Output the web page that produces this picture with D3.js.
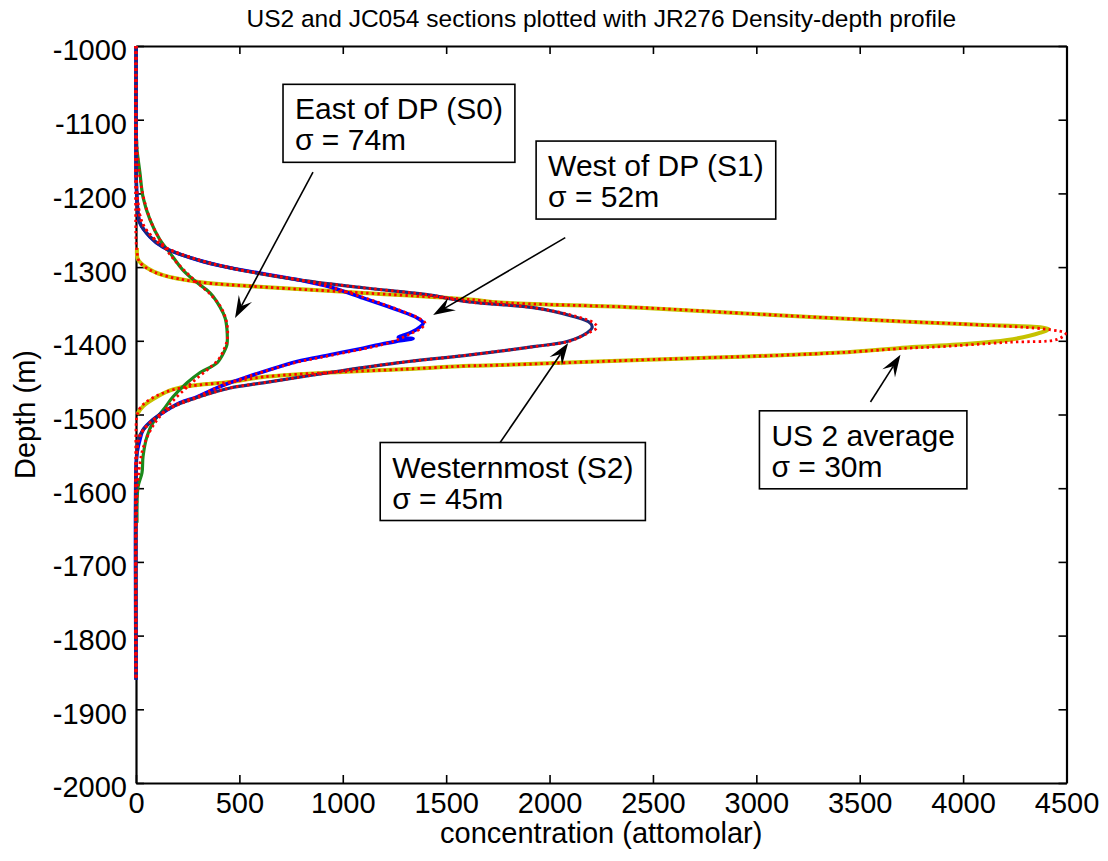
<!DOCTYPE html>
<html>
<head>
<meta charset="utf-8">
<script src="https://cdn.jsdelivr.net/npm/d3@7"></script>
<style>
  body { margin: 0; background: #fff; }
  text { font-family: "Liberation Sans", Arial, sans-serif; fill: #000; }
</style>
</head>
<body>
<svg id="chart" width="1108" height="861"></svg>
<script>
// ---- axis ticks ----
const xTickValues = [0, 500, 1000, 1500, 2000, 2500, 3000, 3500, 4000, 4500];
const yTickValues = [-1000, -1100, -1200, -1300, -1400, -1500, -1600, -1700, -1800, -1900, -2000];
const yTickLabels = ["-1000", "-1100", "-1200", "-1300", "-1400", "-1500", "-1600", "-1700", "-1800", "-1900", "-2000"];

// ---- measured profiles (depth m, concentration attomolar) ----
// East of DP (S0)
const s0Depth = [-1127, -1141, -1172, -1205, -1236, -1263, -1281, -1304, -1321, -1335, -1354, -1369, -1385, -1405, -1412, -1430, -1443, -1457, -1476, -1494, -1511, -1530, -1557, -1579, -1598, -1647];
const s0Conc  = [3, 5, 19, 34, 68, 116, 165, 227, 295, 358, 406, 431, 440, 440, 431, 392, 310, 247, 179, 131, 82, 53, 34, 29, 10, 5];

// West of DP (S1)
const s1Depth = [-1000, -1168, -1188, -1209, -1240, -1259, -1273, -1290, -1301, -1317, -1327, -1342, -1358, -1369, -1376, -1381, -1388, -1393, -1395, -1397, -1400, -1404, -1410, -1419, -1428, -1442, -1449, -1457, -1466, -1476, -1484, -1494, -1507, -1521, -1534, -1552, -1575, -1860];
const s1Conc  = [0, 0, 2, 5, 19, 68, 131, 295, 455, 779, 939, 1098, 1263, 1360, 1389, 1374, 1335, 1287, 1268, 1340, 1277, 1195, 1098, 939, 779, 615, 537, 455, 373, 295, 213, 150, 82, 34, 19, 5, 0, 0];

// Westernmost (S2)
const s2Depth = [-1000, -1168, -1188, -1209, -1240, -1259, -1273, -1290, -1301, -1317, -1328, -1338, -1347, -1355, -1367, -1376, -1382, -1389, -1401, -1408, -1419, -1430, -1443, -1457, -1464, -1477, -1491, -1507, -1521, -1534, -1551, -1575, -1860];
const s2Conc  = [0, 0, 2, 5, 19, 68, 131, 295, 455, 779, 1098, 1423, 1602, 1921, 2115, 2197, 2206, 2182, 2085, 1921, 1616, 1263, 939, 615, 455, 295, 165, 82, 34, 10, 5, 0, 0];

// US 2 average
const usDepth = [-1274, -1290, -1301, -1311, -1320, -1327, -1335, -1344, -1348, -1355, -1365, -1374, -1378, -1384, -1389, -1399, -1405, -1409, -1416, -1420, -1423, -1426, -1433, -1434, -1439, -1443, -1449, -1456, -1460, -1466, -1476, -1489, -1500];
const usConc  = [5, 10, 53, 131, 295, 615, 1098, 1616, 1761, 2439, 3082, 3731, 4050, 4413, 4374, 4214, 3973, 3731, 3406, 3082, 2763, 2439, 1761, 1616, 1263, 939, 615, 455, 295, 179, 102, 34, 5];

// ---- Gaussian fits (red dotted) ----
const fitS0Depth = [-1000, -1120, -1150, -1180, -1210, -1240, -1265, -1285, -1305, -1322, -1337, -1352, -1368, -1385, -1400, -1412, -1425, -1438, -1452, -1466, -1481, -1496, -1512, -1530, -1550, -1575, -1600, -1630, -1660, -1700, -1860];
const fitS0Conc  = [0, 2, 8, 20, 40, 75, 120, 170, 235, 300, 360, 405, 432, 443, 440, 425, 400, 350, 290, 235, 180, 135, 90, 55, 30, 15, 7, 3, 1, 0, 0];

const fitS1Depth = [-1000, -1170, -1190, -1215, -1240, -1258, -1273, -1290, -1301, -1317, -1327, -1342, -1358, -1369, -1376, -1383, -1390, -1398, -1405, -1411, -1420, -1429, -1442, -1449, -1457, -1466, -1476, -1484, -1494, -1507, -1521, -1534, -1550, -1575, -1860];
const fitS1Conc  = [0, 0, 3, 10, 30, 75, 140, 300, 455, 779, 939, 1110, 1270, 1365, 1398, 1380, 1330, 1270, 1195, 1098, 939, 779, 615, 537, 455, 373, 295, 213, 150, 85, 35, 14, 4, 0, 0];

const fitS2Depth = [-1000, -1170, -1190, -1215, -1240, -1258, -1273, -1290, -1301, -1317, -1328, -1338, -1347, -1355, -1367, -1376, -1382, -1389, -1401, -1408, -1419, -1430, -1443, -1457, -1464, -1477, -1491, -1507, -1521, -1534, -1550, -1575, -1860];
const fitS2Conc  = [0, 0, 3, 10, 30, 75, 140, 300, 455, 779, 1098, 1423, 1602, 1921, 2130, 2215, 2229, 2190, 2090, 1921, 1616, 1263, 939, 615, 455, 300, 170, 85, 35, 12, 4, 0, 0];

const fitUsDepth = [-1000, -1262, -1280, -1292, -1302, -1311, -1320, -1327, -1335, -1344, -1348, -1355, -1365, -1374, -1378, -1385, -1390, -1398, -1402, -1408, -1410, -1416, -1420, -1423, -1426, -1433, -1434, -1439, -1443, -1449, -1456, -1460, -1466, -1474, -1485, -1495, -1505, -1520, -1860];
const fitUsConc  = [0, 0, 5, 15, 55, 131, 295, 615, 1098, 1616, 1761, 2439, 3082, 3731, 4050, 4423, 4495, 4456, 4214, 3890, 3731, 3406, 3082, 2763, 2439, 1761, 1616, 1263, 939, 615, 455, 300, 185, 105, 40, 12, 3, 0, 0];

// ---- annotations (anchored in data units: concentration, depth) ----
const noteLines = [["East of DP (S0)", "\u03C3 = 74m"], ["West of DP (S1)", "\u03C3 = 52m"], ["Westernmost (S2)", "\u03C3 = 45m"], ["US 2 average", "\u03C3 = 30m"]];
const noteBoxAt = [[711, -1052], [1935, -1129], [1181, -1538], [3015, -1495]];
const noteArrowFrom = [[856, -1171], [2076, -1260], [1761, -1538], [3552, -1483]];
const noteArrowTo = [[479, -1369], [1437, -1365], [2090, -1403], [3697, -1419]];

// ---- layout ----
const svg = d3.select("#chart");
svg.append("rect").attr("width", 1108).attr("height", 861).attr("fill", "#fff");

const plot = { left: 136, right: 1066.5, top: 46, bottom: 783 };
const x = d3.scaleLinear().domain([0, 4500]).range([plot.left, plot.right]);
const y = d3.scaleLinear().domain([-1000, -2000]).range([plot.top, plot.bottom]);

const zip = (d, c) => d.map((v, i) => [c[i], v]);
const line = d3.line().x(p => x(p[0])).y(p => y(p[1])).curve(d3.curveCatmullRom.alpha(0.5));

const g = svg.append("g");

// ---- axes (ticks inside, full box) ----
const fontTick = 29;
const axB = g.append("g").attr("transform", `translate(0,${plot.bottom})`)
  .call(d3.axisBottom(x).tickValues(xTickValues).tickSizeInner(-8).tickSizeOuter(0).tickPadding(9).tickFormat(d => String(d)));
const axT = g.append("g").attr("transform", `translate(0,${plot.top})`)
  .call(d3.axisTop(x).tickValues(xTickValues).tickSizeInner(-8).tickSizeOuter(0).tickFormat(() => ""));
const axL = g.append("g").attr("transform", `translate(${plot.left},0)`)
  .call(d3.axisLeft(y).tickValues(yTickValues).tickSizeInner(-8).tickSizeOuter(0).tickPadding(9).tickFormat((d, i) => yTickLabels[i]));
const axR = g.append("g").attr("transform", `translate(${plot.right},0)`)
  .call(d3.axisRight(y).tickValues(yTickValues).tickSizeInner(-8).tickSizeOuter(0).tickFormat(() => ""));

[axB, axT, axL, axR].forEach(a => {
  a.select(".domain").attr("stroke", "#000").attr("stroke-width", 2.2);
  a.selectAll(".tick line").attr("stroke", "#000").attr("stroke-width", 1.6);
  a.selectAll("text").attr("font-size", fontTick).attr("font-family", "Liberation Sans, Arial, sans-serif").attr("fill", "#000");
});
axL.selectAll("text").attr("dy", "0.48em");
axB.selectAll("text").attr("dy", "0.71em");

// ---- profiles drawn over the axes ----
const curves = g.append("g");
const solid = [
  { d: usDepth, c: usConc, color: "#c6c200", w: 4 },
  { d: s0Depth, c: s0Conc, color: "#1b8a1b", w: 3.2 },
  { d: s1Depth, c: s1Conc, color: "#0000ff", w: 3.6 },
  { d: s2Depth, c: s2Conc, color: "#1d2b78", w: 3.2 }
];
const fits = [
  { d: fitS0Depth, c: fitS0Conc },
  { d: fitS1Depth, c: fitS1Conc },
  { d: fitS2Depth, c: fitS2Conc },
  { d: fitUsDepth, c: fitUsConc }
];

curves.selectAll("path.obs").data(solid).join("path")
  .attr("class", "obs")
  .attr("d", s => line(zip(s.d, s.c)))
  .attr("fill", "none").attr("stroke", s => s.color).attr("stroke-width", s => s.w)
  .attr("stroke-linejoin", "round");

curves.selectAll("path.fit").data(fits).join("path")
  .attr("class", "fit")
  .attr("d", s => line(zip(s.d, s.c)))
  .attr("fill", "none").attr("stroke", "#ff0000").attr("stroke-width", 2.8)
  .attr("stroke-dasharray", "2.4,3.2");

// ---- titles ----
svg.append("text").attr("x", (plot.left + plot.right) / 2).attr("y", 27)
  .attr("text-anchor", "middle").attr("font-size", 24.5)
  .text("US2 and JC054 sections plotted with JR276 Density-depth profile");
svg.append("text").attr("x", (plot.left + plot.right) / 2).attr("y", 843)
  .attr("text-anchor", "middle").attr("font-size", 29)
  .text("concentration (attomolar)");
svg.append("text").attr("transform", `translate(35,${(plot.top + plot.bottom) / 2}) rotate(-90)`)
  .attr("text-anchor", "middle").attr("font-size", 29)
  .text("Depth (m)");

// ---- annotation arrows ----
function arrow(from, to) {
  const x0 = x(from[0]), y0 = y(from[1]), x1 = x(to[0]), y1 = y(to[1]);
  const len = Math.hypot(x1 - x0, y1 - y0);
  const ux = (x0 - x1) / len, uy = (y0 - y1) / len;   // tip -> tail
  const nx = -uy, ny = ux;
  const L = 22, W = 15, notch = 0.62 * L;
  const ag = svg.append("g");
  ag.append("line").attr("x1", x0).attr("y1", y0)
    .attr("x2", x1 + ux * notch).attr("y2", y1 + uy * notch)
    .attr("stroke", "#000").attr("stroke-width", 1.6);
  const pts = [
    [x1, y1],
    [x1 + ux * L + nx * W / 2, y1 + uy * L + ny * W / 2],
    [x1 + ux * notch, y1 + uy * notch],
    [x1 + ux * L - nx * W / 2, y1 + uy * L - ny * W / 2]
  ];
  ag.append("polygon").attr("points", pts.map(p => p.join(",")).join(" ")).attr("fill", "#000");
}
noteArrowFrom.forEach((f, i) => arrow(f, noteArrowTo[i]));

// ---- annotation boxes ----
noteLines.forEach((lines, i) => {
  const bx = x(noteBoxAt[i][0]), by = y(noteBoxAt[i][1]);
  const bg = svg.append("g");
  const rect = bg.append("rect").attr("fill", "#fff").attr("stroke", "#000").attr("stroke-width", 1.6);
  const texts = lines.map((t, k) => bg.append("text")
    .attr("x", bx + 12).attr("y", by + 35 + k * 31)
    .attr("font-size", 30).text(t));
  const w = d3.max(texts, t => t.node().getComputedTextLength());
  rect.attr("x", bx).attr("y", by).attr("width", w + 24).attr("height", 78);
});
</script>
</body>
</html>
